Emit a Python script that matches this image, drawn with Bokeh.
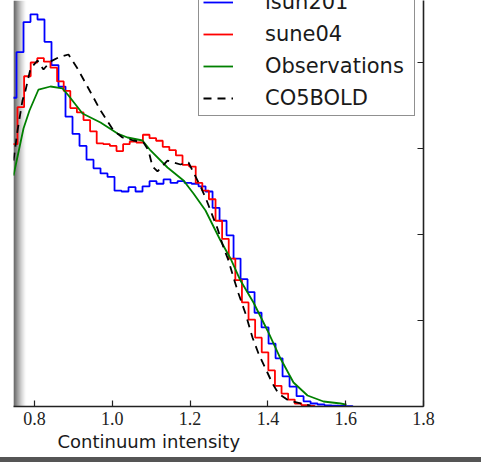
import numpy as np
from bokeh.plotting import figure
from bokeh.layouts import column
from bokeh.models import (Range1d, Legend, LegendItem, Title, BoxAnnotation,
                          FixedTicker, Div)
from bokeh.embed import file_html
from bokeh.resources import INLINE

# ---------------- data ----------------
# isun201: step histogram (first bin left edge, bin width, heights)
isun201_start = 0.7357
isun201_width = 0.018
isun201_counts = [3.59, 4.12, 4.47, 4.56, 4.50, 4.24, 3.97, 3.72, 3.37, 3.17,
                  3.03, 2.87, 2.77, 2.71, 2.67, 2.51, 2.50, 2.55, 2.50, 2.56,
                  2.62, 2.59, 2.64, 2.60, 2.62, 2.60, 2.59, 2.56, 2.50, 2.31,
                  2.16, 1.99, 1.72, 1.48, 1.33, 1.09, 0.92, 0.73, 0.56, 0.35,
                  0.23, 0.12, 0.06, 0.035, 0.023, 0.012, 0.010, 0.008, 0.005]

# sune04: step histogram
sune04_start = 0.7393
sune04_width = 0.01697
sune04_counts = [3.05, 3.48, 3.84, 4.00, 4.05, 4.01, 3.94, 3.78, 3.67, 3.47,
                 3.42, 3.33, 3.20, 3.06, 3.05, 3.03, 2.97, 3.05, 3.08, 3.07,
                 3.16, 3.12, 3.09, 3.02, 2.98, 2.92, 2.81, 2.79, 2.60, 2.51,
                 2.41, 2.16, 1.95, 1.72, 1.47, 1.21, 1.01, 0.80, 0.63, 0.42,
                 0.24, 0.15, 0.08, 0.035, 0.017, 0.008]

# Observations: line
obs_x = [0.746, 0.7717, 0.7871, 0.8103, 0.8411, 0.872, 0.8874, 0.9234, 0.9697,
         1.0134, 1.0391, 1.0776, 1.0982, 1.1419, 1.183, 1.2087, 1.2396, 1.2781,
         1.3038, 1.3295, 1.3629, 1.3989, 1.4324, 1.4658, 1.5018, 1.543, 1.5867,
         1.6021]
obs_y = [2.686, 3.233, 3.442, 3.686, 3.721, 3.698, 3.616, 3.407, 3.302,
         3.174, 3.128, 3.093, 2.977, 2.779, 2.628, 2.477, 2.279, 1.930,
         1.721, 1.465, 1.209, 0.884, 0.558, 0.279, 0.128, 0.058, 0.035,
         0.023]

# CO5BOLD: dashed line
co5_x = [0.746, 0.7563, 0.7691, 0.7768, 0.7897, 0.8077, 0.8231, 0.8411, 0.8617,
         0.8874, 0.9105, 0.9388, 0.9697, 1.003, 1.0262, 1.0545, 1.0802, 1.093,
         1.1033, 1.1162, 1.1419, 1.1753, 1.1959, 1.2113, 1.2267, 1.2396, 1.2524,
         1.2704, 1.2858, 1.2987, 1.3115, 1.3244, 1.3424, 1.3604, 1.3758, 1.3938,
         1.4118, 1.4272, 1.4529, 1.4838, 1.5095]
co5_y = [2.860, 3.209, 3.558, 3.674, 3.930, 4.023, 3.919, 4.012, 4.058, 4.093,
         3.930, 3.698, 3.442, 3.209, 3.128, 3.093, 3.070, 2.977, 2.791, 2.733,
         2.860, 2.814, 2.837, 2.698, 2.558, 2.430, 2.279, 2.070, 1.849, 1.698,
         1.500, 1.314, 1.081, 0.802, 0.616, 0.442, 0.267, 0.151, 0.070, 0.035,
         0.012]

series_labels = ["isun201", "sune04", "Observations", "CO5BOLD"]
x_ticks = [0.8, 1.0, 1.2, 1.4, 1.6, 1.8]
x_tick_labels = ["0.8", "1.0", "1.2", "1.4", "1.6", "1.8"]
y_ticks = [0, 1, 2, 3, 4]
x_label = "Continuum intensity"


def step_xy(start, width, counts):
    edges = start + width * np.arange(len(counts) + 1)
    xs, ys = [edges[0]], [0.0]
    for i, c in enumerate(counts):
        xs += [edges[i], edges[i + 1]]
        ys += [c, c]
    xs.append(edges[-1])
    ys.append(0.0)
    return xs, ys


# ---------------- figure ----------------
p = figure(width=481, height=457, output_backend="svg", toolbar_location=None,
           x_range=Range1d(0.746, 1.8), y_range=Range1d(0, 4.721),
           y_axis_location="right")
p.min_border = 0
p.min_border_left = 13
p.min_border_right = 58
p.min_border_top = 0
p.min_border_bottom = 51
p.outline_line_color = None
p.grid.visible = False
p.background_fill_color = "white"
p.border_fill_color = "white"

# shadow strip at the left edge of the (cropped) screenshot
for i in range(13):
    a = 0.72 * (1 - i / 13.0) ** 1.6
    p.add_layout(BoxAnnotation(left=13 + i, right=14 + i,
                               left_units="canvas", right_units="canvas",
                               fill_color="black", fill_alpha=a,
                               line_color=None, level="underlay"))

bx, by = step_xy(isun201_start, isun201_width, isun201_counts)
rx, ry = step_xy(sune04_start, sune04_width, sune04_counts)
r_blue = p.line(bx, by, line_color="#0000ff", line_width=1.8)
r_red = p.line(rx, ry, line_color="#ff0000", line_width=1.8)
r_green = p.line(obs_x, obs_y, line_color="#008000", line_width=1.8)
r_black = p.line(co5_x, co5_y, line_color="black", line_width=1.8,
                 line_dash="8 6")

# axes
xa = p.xaxis[0]
xa.ticker = FixedTicker(ticks=x_ticks)
xa.major_label_overrides = {t: l for t, l in zip(x_ticks, x_tick_labels)}
xa.minor_tick_line_color = None
xa.major_tick_in = 6
xa.major_tick_out = 0
xa.major_tick_line_color = "#222222"
xa.major_tick_line_width = 1.2
xa.axis_line_color = "#222222"
xa.axis_line_width = 1.6
xa.major_label_text_font = "Liberation Serif"
xa.major_label_text_font_size = "18px"
xa.major_label_text_color = "#222222"
xa.major_label_standoff = 5

ya = p.yaxis[0]
ya.ticker = FixedTicker(ticks=y_ticks)
ya.minor_tick_line_color = None
ya.major_tick_in = 6
ya.major_tick_out = 0
ya.major_tick_line_color = "#222222"
ya.major_tick_line_width = 1.2
ya.axis_line_color = "#222222"
ya.axis_line_width = 1.6
ya.major_label_text_font_size = "0px"
ya.major_label_text_alpha = 0

# x-axis label (placed off-centre, as in the cropped original)
p.add_layout(Title(text=x_label, align="left", offset=44,
                   text_font="DejaVu Sans", text_font_size="18px",
                   text_font_style="normal", text_color="#1a1a1a",
                   standoff=3), "below")

legend = Legend(items=[LegendItem(label=series_labels[0], renderers=[r_blue]),
                       LegendItem(label=series_labels[1], renderers=[r_red]),
                       LegendItem(label=series_labels[2], renderers=[r_green]),
                       LegendItem(label=series_labels[3], renderers=[r_black])],
                location=(185, 290))
legend.padding = 4
legend.spacing = 6
legend.glyph_width = 30
legend.glyph_height = 26
legend.label_height = 26
legend.label_width = 145
legend.label_standoff = 32
legend.margin = 0
legend.label_text_font = "DejaVu Sans"
legend.label_text_font_size = "21px"
legend.label_text_color = "#1a1a1a"
legend.border_line_color = "#222222"
legend.border_line_width = 1.6
legend.background_fill_color = "white"
legend.background_fill_alpha = 1.0
p.add_layout(legend, "center")

band = Div(text="", width=481, height=5, margin=0,
           styles={"background-color": "#555555"})
layout = column(p, band, spacing=0)

open("out.html", "w").write(file_html(layout, INLINE))
